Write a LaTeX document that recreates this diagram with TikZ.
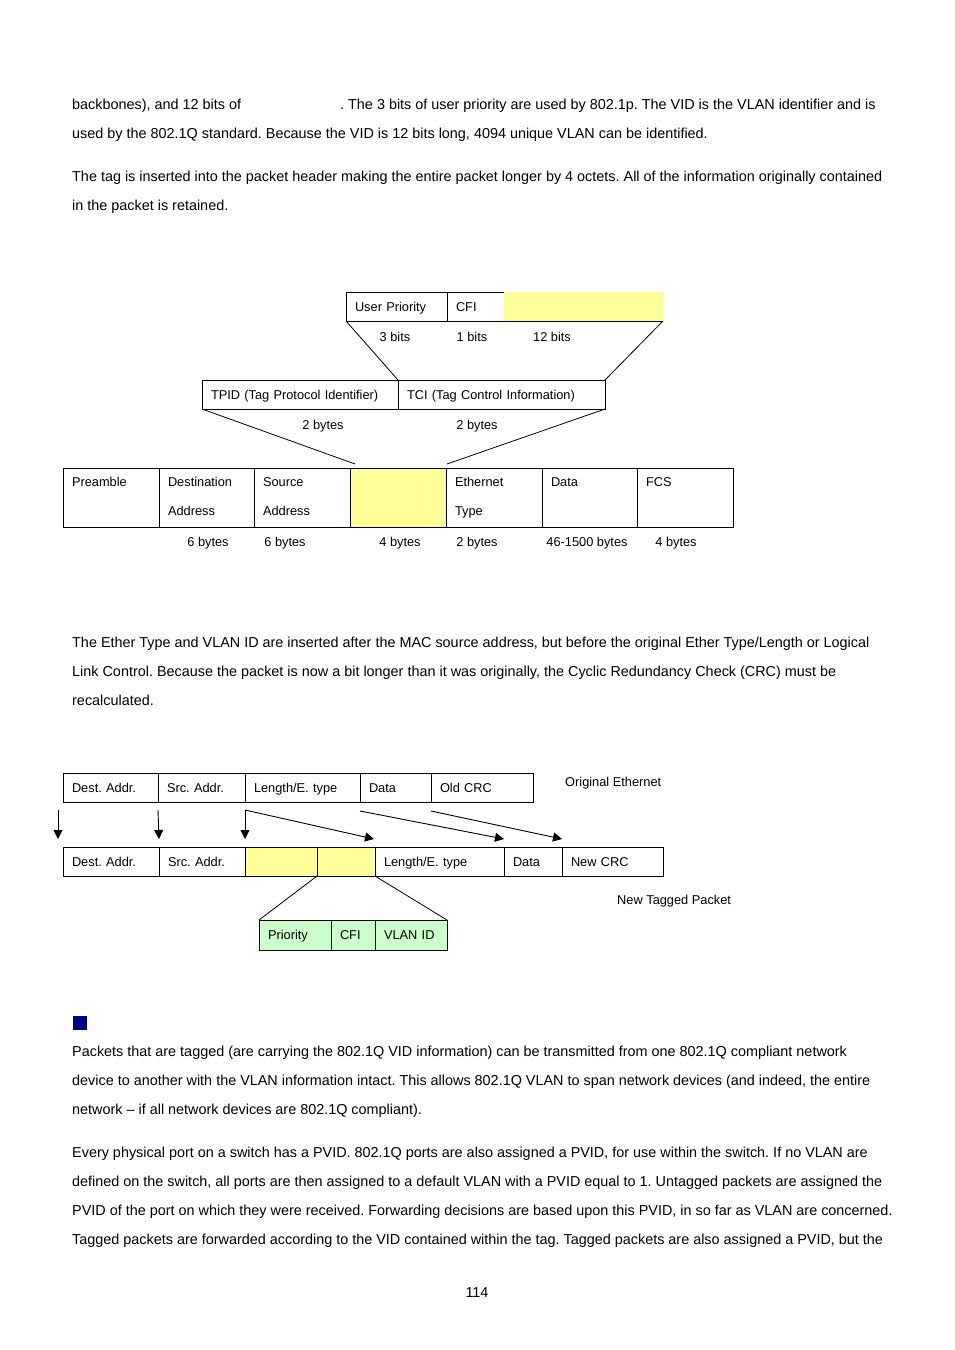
\documentclass[tikz,border=0pt]{standalone}
\usepackage{fontspec}
\setmainfont{Liberation Sans}
\usetikzlibrary{arrows.meta,positioning}
\definecolor{tagyellow}{RGB}{255,255,153}
\definecolor{taggreen}{RGB}{204,255,204}
\definecolor{bulletblue}{RGB}{0,0,128}
\newcommand{\bodyfont}{\fontsize{14.4}{29}\selectfont\frenchspacing}
\newcommand{\diagfont}{\fontsize{12.8}{29}\selectfont\frenchspacing}

\begin{document}
\begin{tikzpicture}[x=1pt,y=-1pt,
  txt/.style={anchor=base west,inner sep=0pt,font=\bodyfont},
  lab/.style={anchor=base,inner sep=0pt,font=\diagfont},
  note/.style={anchor=base west,inner sep=0pt,font=\diagfont},
  cell/.style={draw,line width=0.8pt,anchor=north west,inner xsep=9pt,inner ysep=0pt,
    outer sep=0pt,minimum height=29pt,align=left,font=\diagfont,text width={#1-18},
    text height=9.2pt,text depth=0pt},
  tall/.style={minimum height=59pt,text depth=30.6pt},
  mv/.style={-{Triangle[length=9pt,width=9pt]},line width=0.9pt}]
\useasboundingbox (0,0) rectangle (954,1350);

% text above
\node[txt] (t1a) at (72,109) {backbones), and 12 bits of};
\node[txt] (t1b) at (340,109) {. The 3 bits of user priority are used by 802.1p. The VID is the VLAN identifier and is};
\node[txt] (t2) at (72,138) {used by the 802.1Q standard. Because the VID is 12 bits long, 4094 unique VLAN can be identified.};
\node[txt] (t3) at (72,181) {The tag is inserted into the packet header making the entire packet longer by 4 octets. All of the information originally contained};
\node[txt] (t4) at (72,210) {in the packet is retained.};

% tag layout
\node[cell=101] (user) at (346,292) {User Priority};
\node[cell=57,right=0pt of user] (cfi) {CFI};
\node[cell=159,draw=none,fill=tagyellow,right=0pt of cfi] (vid) {};
\draw[line width=0.8pt] (vid.south west) -- (vid.south east);
\node[lab] (b3) at (395,341) {3 bits};
\node[lab] (b1) at (472,341) {1 bits};
\node[lab] (b12) at (552,341) {12 bits};

\node[cell=196] (tpid) at (202,380) {TPID (Tag Protocol Identifier)};
\node[cell=207,right=0pt of tpid] (tci) {TCI (Tag Control Information)};
\node[lab] (y2a) at (323,429) {2 bytes};
\node[lab] (y2b) at (477,429) {2 bytes};
\draw[line width=0.8pt] (user.south west) -- (tci.north west);
\draw[line width=0.8pt] (vid.south east) -- (tci.north east);

\node[cell=96,tall] (pre) at (63,468) {Preamble\\\mbox{}};
\node[cell=95,tall,right=0pt of pre] (dst) {Destination\\Address};
\node[cell=96,tall,right=0pt of dst] (src) {Source\\Address};
\node[cell=96,tall,fill=tagyellow,right=0pt of src] (tag) {};
\node[cell=96,tall,right=0pt of tag] (eth) {Ethernet\\Type};
\node[cell=95,tall,right=0pt of eth] (data) {Data\\\mbox{}};
\node[cell=96,tall,right=0pt of data] (fcs) {FCS\\\mbox{}};
\draw[line width=0.8pt] (tpid.south west) -- ([shift={(5pt,4pt)}]tag.north west);
\draw[line width=0.8pt] (tci.south east) -- ([shift={(1pt,4pt)}]tag.north east);
\node[lab] (s1) at (208,546) {6 bytes};
\node[lab] (s2) at (285,546) {6 bytes};
\node[lab] (s3) at (400,546) {4 bytes};
\node[lab] (s4) at (477,546) {2 bytes};
\node[lab] (s5) at (587,546) {46-1500 bytes};
\node[lab] (s6) at (676,546) {4 bytes};

% middle text
\node[txt] (t5) at (72,647) {The Ether Type and VLAN ID are inserted after the MAC source address, but before the original Ether Type/Length or Logical};
\node[txt] (t6) at (72,676) {Link Control. Because the packet is now a bit longer than it was originally, the Cyclic Redundancy Check (CRC) must be};
\node[txt] (t7) at (72,705) {recalculated.};

% original and tagged packet
\node[cell=95] (destA) at (63,773) {Dest. Addr.};
\node[cell=87,right=0pt of destA] (srcA) {Src. Addr.};
\node[cell=115,right=0pt of srcA] (lenA) {Length/E. type};
\node[cell=71,right=0pt of lenA] (dataA) {Data};
\node[cell=102,right=0pt of dataA] (crcA) {Old CRC};
\node[note] (orig) at (565,786) {Original Ethernet};

\node[cell=96] (destB) at (63,847) {Dest. Addr.};
\node[cell=86,right=0pt of destB] (srcB) {Src. Addr.};
\node[cell=72,fill=tagyellow,right=0pt of srcB] (tagB1) {};
\node[cell=58,fill=tagyellow,right=0pt of tagB1] (tagB2) {};
\node[cell=129,right=0pt of tagB2] (lenB) {Length/E. type};
\node[cell=58,right=0pt of lenB] (dataB) {Data};
\node[cell=101,right=0pt of dataB] (crcB) {New CRC};
\node[note] (tagged) at (617,904) {New Tagged Packet};

\draw[mv] ([shift={(-5pt,-8pt)}]destA.south west) -- ([shift={(-5pt,8pt)}]destB.north west);
\draw[mv] ([yshift=-8pt]srcA.south west) -- ([yshift=8pt]srcB.north west);
\draw[mv] ([yshift=-8pt]lenA.south west) -- ([yshift=8pt]tagB1.north west);
\draw[mv] ([yshift=-8pt]lenA.south west) -- ([shift={(-1pt,8pt)}]lenB.north west);
\draw[mv] ([yshift=-9pt]dataA.south west) -- ([yshift=8pt]dataB.north west);
\draw[mv] ([yshift=-9pt]crcA.south west) -- ([yshift=8pt]crcB.north west);

\node[cell=72,minimum height=30pt,fill=taggreen] (pri) at (259,920) {Priority};
\node[cell=44,minimum height=30pt,fill=taggreen,right=0pt of pri] (cfiC) {CFI};
\node[cell=72,minimum height=30pt,fill=taggreen,right=0pt of cfiC] (vlan) {VLAN ID};
\draw[line width=0.8pt] (tagB1.south east) -- (pri.north west);
\draw[line width=0.8pt] (tagB2.south east) -- (vlan.north east);

% text below
\node[fill=bulletblue,minimum size=14pt,inner sep=0pt,anchor=north west] (bullet) at (73,1016) {};
\node[txt] (t8) at (72,1056) {Packets that are tagged (are carrying the 802.1Q VID information) can be transmitted from one 802.1Q compliant network};
\node[txt] (t9) at (72,1085) {device to another with the VLAN information intact. This allows 802.1Q VLAN to span network devices (and indeed, the entire};
\node[txt] (t10) at (72,1114) {network – if all network devices are 802.1Q compliant).};
\node[txt] (t11) at (72,1157) {Every physical port on a switch has a PVID. 802.1Q ports are also assigned a PVID, for use within the switch. If no VLAN are};
\node[txt] (t12) at (72,1186) {defined on the switch, all ports are then assigned to a default VLAN with a PVID equal to 1. Untagged packets are assigned the};
\node[txt] (t13) at (72,1215) {PVID of the port on which they were received. Forwarding decisions are based upon this PVID, in so far as VLAN are concerned.};
\node[txt] (t14) at (72,1244) {Tagged packets are forwarded according to the VID contained within the tag. Tagged packets are also assigned a PVID, but the};
\node[txt,anchor=base] (page) at (477,1297) {114};
\end{tikzpicture}
\end{document}
